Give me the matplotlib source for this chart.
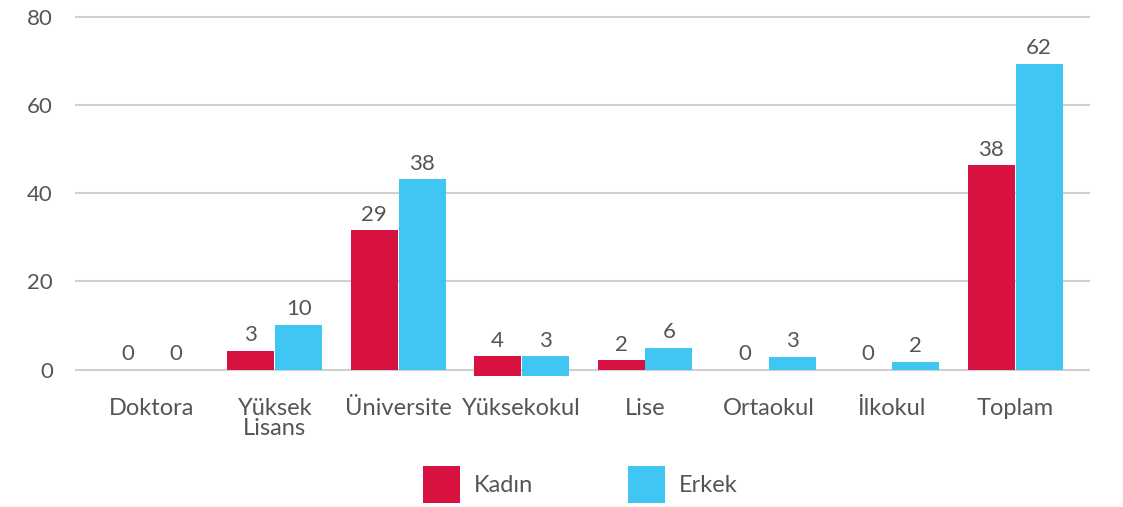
import numpy as np
import matplotlib
matplotlib.use('Agg')
import matplotlib.pyplot as plt

# veriler
kategoriler = ['Doktora', 'Yüksek\nLisans', 'Üniversite', 'Yüksekokul', 'Lise', 'Ortaokul', 'İlkokul', 'Toplam']
kadin_etiket = [0, 3, 29, 4, 2, 0, 0, 38]
erkek_etiket = [0, 10, 38, 3, 6, 3, 2, 62]
# çubuk yükseklikleri (resimde etiketlerle birebir değil)
kadin_bar = [0, 4.3, 31.6, 4.4, 2.05, 0, 0, 46.4]
erkek_bar = [0, 10.2, 43.2, 4.4, 5.0, 2.95, 1.8, 69.5]
bar_taban = [0, 0, 0, -1.4, 0, 0, 0, 0]
y_ticks = [0, 20, 40, 60, 80]

KIRMIZI = '#D71240'
MAVI = '#40C6F2'
YAZI = '#555555'

plt.rcParams['font.family'] = ['Lato', 'DejaVu Sans']

fig = plt.figure(figsize=(11.23, 5.07), dpi=100)
ax = fig.add_axes([0.0668, 0.2538, 0.9038, 0.7164])

x = np.arange(len(kategoriler))
w = 0.38
b1 = ax.bar(x - w / 2 - 0.004, kadin_bar, w, bottom=bar_taban, color=KIRMIZI, label='Kadın', zorder=3)
b2 = ax.bar(x + w / 2 + 0.004, erkek_bar, w, bottom=bar_taban, color=MAVI, label='Erkek', zorder=3)

# değer etiketleri
for bars, etiketler in [(b1, kadin_etiket), (b2, erkek_etiket)]:
    for rect, et in zip(bars, etiketler):
        top = rect.get_y() + rect.get_height()
        ax.annotate(str(et), (rect.get_x() + rect.get_width() / 2, top),
                    xytext=(0, 4), textcoords='offset points',
                    ha='center', va='bottom', fontsize=16, color=YAZI)

ax.set_ylim(-2, 80.5)
ax.set_xlim(-0.619, 7.606)
ax.set_yticks(y_ticks)
ax.set_xticks(x)
ax.set_xticklabels(kategoriler, fontsize=17, color=YAZI, linespacing=0.95)
ax.tick_params(axis='y', length=0, pad=16, labelsize=16, labelcolor=YAZI)
ax.tick_params(axis='x', length=0, pad=14)
ax.yaxis.grid(True, color='#D0D0D0', linewidth=1.5, zorder=0)
for s in ax.spines.values():
    s.set_visible(False)

fig.legend(handles=[b1, b2], loc='center', bbox_to_anchor=(0.517, 0.044), ncol=2,
           frameon=False, fontsize=17, labelcolor=YAZI, handlelength=1.565,
           handleheight=2.03, handletextpad=0.6, columnspacing=4.0)

fig.savefig('out.png', dpi=100)
